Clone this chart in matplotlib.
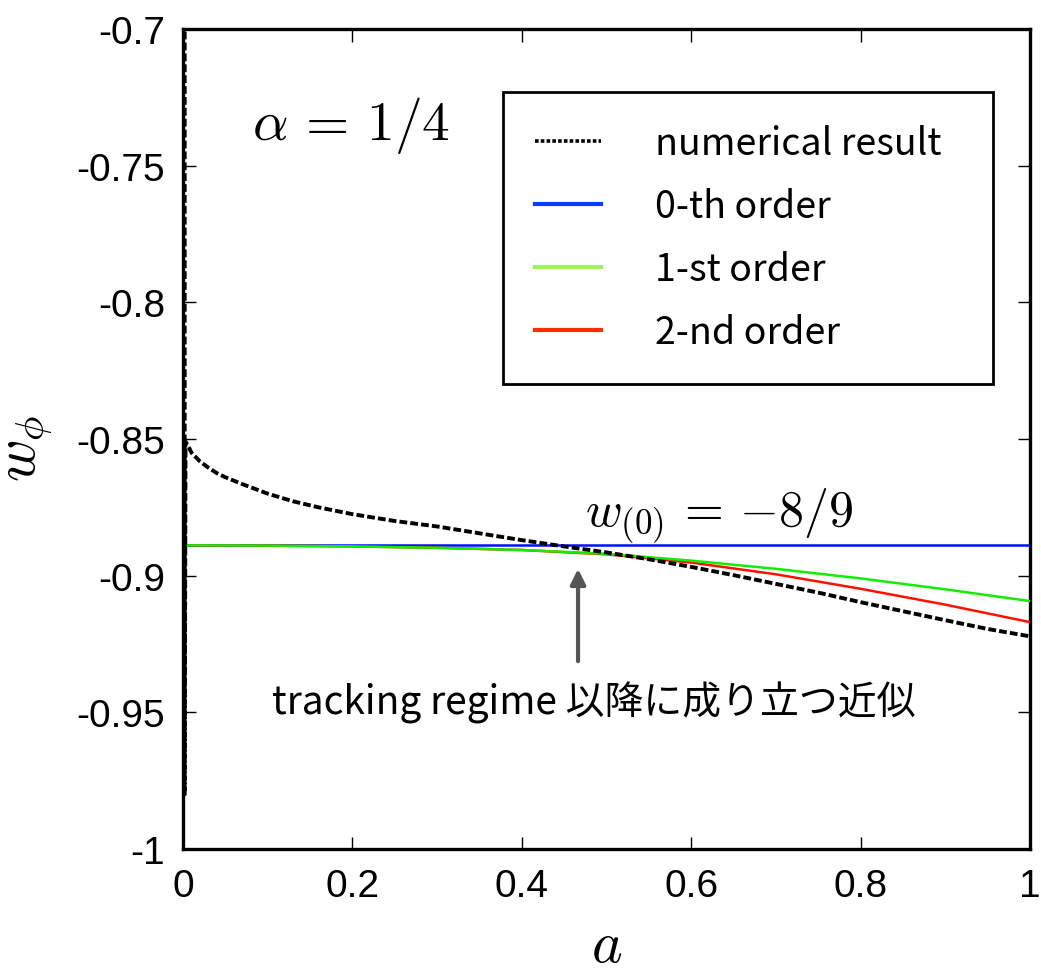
import matplotlib
matplotlib.use('Agg')
from matplotlib import pyplot as plt
from matplotlib.lines import Line2D
import numpy as np

# ---- data ----
# numerical result (includes the initial spike at a ~ 0)
a_num = [0.002, 0.002, 0.003, 0.006, 0.01, 0.02, 0.03, 0.04, 0.05, 0.07, 0.1, 0.13, 0.16,
         0.2, 0.25, 0.3, 0.35, 0.4, 0.45, 0.5, 0.55, 0.6, 0.65, 0.7, 0.75, 0.8, 0.85,
         0.9, 0.95, 1.0]
w_num = [-0.65, -0.98, -0.851, -0.8525, -0.8550, -0.8582, -0.8605, -0.8625, -0.8640,
         -0.8665, -0.8700, -0.8728, -0.8750, -0.8775, -0.880, -0.882, -0.8845, -0.887,
         -0.8893, -0.8915, -0.894, -0.8968, -0.8998, -0.903, -0.9062, -0.9097, -0.913,
         -0.9163, -0.9195, -0.9222]

# 0-th order
a_0th = [0.0, 1.0]
w_0th = [-8 / 9, -8 / 9]

# 1-st order
a_1st = [0.0, 0.1, 0.2, 0.3, 0.4, 0.5, 0.6, 0.7, 0.8, 0.9, 1.0]
w_1st = [-0.8889, -0.8890, -0.8893, -0.8898, -0.8906, -0.8920, -0.8945, -0.8975,
         -0.9010, -0.9050, -0.9093]

# 2-nd order
a_2nd = [0.0, 0.1, 0.2, 0.3, 0.4, 0.5, 0.6, 0.7, 0.8, 0.9, 1.0]
w_2nd = [-0.8889, -0.8890, -0.8893, -0.8898, -0.8906, -0.8922, -0.8952, -0.8995,
         -0.9048, -0.9106, -0.9170]

labels = ['numerical result', '0-th order', '1-st order', '2-nd order']

tick_font = ['Liberation Sans Narrow', 'Liberation Sans', 'DejaVu Sans']
jp_font = ['Noto Sans CJK JP', 'DejaVu Sans']
plt.rcParams['mathtext.fontset'] = 'cm'

fig = plt.figure(figsize=(10.41, 9.79), dpi=100)
ax = fig.add_axes([183 / 1041, 1 - 850 / 979, (1030 - 183) / 1041, (850 - 30) / 979])

dash = (0, (2.0, 0.8))
ax.plot(a_num, w_num, color='black', lw=2.8, linestyle=dash, zorder=5)
ax.plot(a_0th, w_0th, color='#0010ff', lw=1.8, zorder=3)
ax.plot(a_2nd, w_2nd, color='#ff1100', lw=1.8, zorder=3)
ax.plot(a_1st, w_1st, color='#11ee00', lw=1.8, zorder=4)

ax.set_xlim(0, 1)
ax.set_ylim(-1, -0.7)
ax.set_xticks([0, 0.2, 0.4, 0.6, 0.8, 1])
ax.set_xticklabels(['0', '0.2', '0.4', '0.6', '0.8', '1'])
ax.set_yticks([-1, -0.95, -0.9, -0.85, -0.8, -0.75, -0.7])
ax.set_yticklabels(['-1', '-0.95', '-0.9', '-0.85', '-0.8', '-0.75', '-0.7'])
ax.tick_params(direction='in', length=9, width=1.0, top=True, right=True, labelsize=28)
ax.tick_params(axis='x', pad=14)
ax.tick_params(axis='y', pad=13)
for lab in ax.get_xticklabels() + ax.get_yticklabels():
    lab.set_family(tick_font)
for spine in ax.spines.values():
    spine.set_linewidth(2.4)

ax.set_xlabel('$a$', fontsize=42)
ax.set_ylabel(r'$w_\phi$', fontsize=42)
ax.xaxis.set_label_coords(0.5, -0.082)
ax.yaxis.set_label_coords(-0.151, 0.49)

# annotations
ax.text(0.081, -0.7348, r'$\alpha\,=\,1/4$', fontsize=40, va='center', ha='left')
ax.text(0.475, -0.8818, r'$w_{(0)}\,=\,{-8/9}$', fontsize=36, va='baseline', ha='left')
ax.annotate('', xy=(0.4664, -0.8965), xytext=(0.4664, -0.9323),
            arrowprops=dict(arrowstyle='-|>,head_length=0.9,head_width=0.45',
                            color='#555555', lw=3))
ax.text(0.485, -0.9462, 'tracking regime 以降に成り立つ近似', fontsize=28,
        family=jp_font, va='center', ha='center')

# legend (legend swatch for 1-st order is lighter than the plotted line)
handles = [Line2D([], [], color='black', lw=2.6, linestyle=(0, (1.0, 0.6))),
           Line2D([], [], color='#0a3cff', lw=3),
           Line2D([], [], color='#a0f550', lw=3),
           Line2D([], [], color='#ff2a08', lw=3)]
leg = fig.legend(handles, labels, loc='upper left',
                 bbox_to_anchor=(503 / 1041, 1 - 383 / 979, 490 / 1041, 290 / 979),
                 mode='expand', prop={'family': jp_font, 'size': 27}, frameon=True,
                 fancybox=False, edgecolor='black', framealpha=1, borderpad=0.85,
                 borderaxespad=0, handlelength=1.75, handletextpad=1.45, labelspacing=0.64)
leg.get_frame().set_linewidth(2.0)

fig.savefig('out.png', dpi=100)
